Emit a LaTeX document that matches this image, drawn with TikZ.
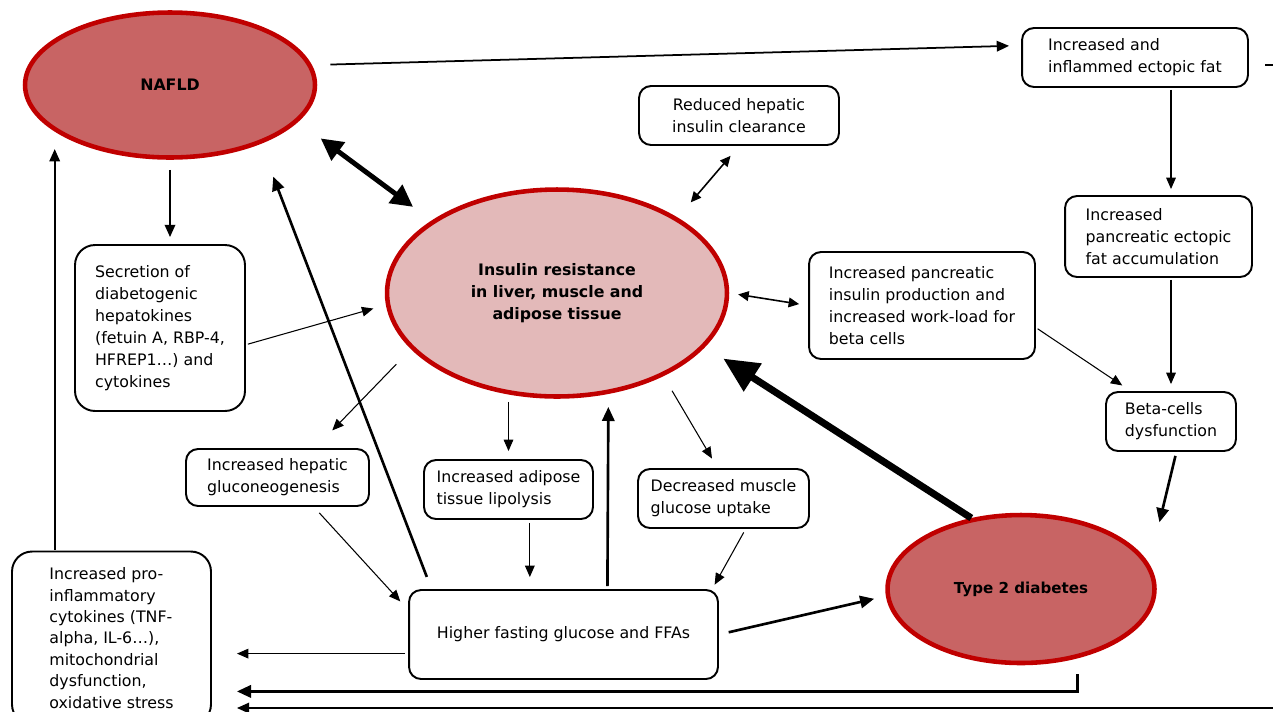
\documentclass[tikz,border=0pt]{standalone}
\usepackage{fontspec}
\setmainfont{DejaVu Sans}
\usetikzlibrary{shapes.geometric, arrows.meta}
\definecolor{naflred}{RGB}{200,100,100}
\definecolor{irpink}{RGB}{227,185,185}
\definecolor{rimred}{RGB}{192,0,0}

\begin{document}
\begin{tikzpicture}[x=0.02cm, y=-0.02cm,
        hub/.style={ellipse, draw=rimred, line width=2.6pt, align=center, font=\bfseries\fontsize{9}{12.5}\selectfont},
        box/.style={rectangle, draw, line width=1.1pt, rounded corners=0.24cm, align=left, font=\fontsize{9}{12.5}\selectfont},
        arrowthin/.style={-{Triangle[length=6.5pt,width=5.5pt]}, line width=0.6pt},
        arrowmid/.style={-{Triangle[length=7pt,width=6pt]}, line width=1pt},
        arrowthick/.style={-{Triangle[length=8pt,width=7pt]}, line width=1.5pt},
        twoway/.style={{Triangle[length=6pt,width=5.5pt]}-{Triangle[length=6pt,width=5.5pt]}, line width=0.9pt}
    ]
        \useasboundingbox (0,0) rectangle (1273,711);

        % Main conditions
        \node[hub, fill=naflred, minimum width=5.8cm, minimum height=2.9cm] (nafld) at (170,85) {NAFLD};
        \node[hub, fill=irpink, minimum width=6.8cm, minimum height=4.14cm] (ir) at (557,293) {Insulin resistance\\in liver, muscle and\\adipose tissue};
        \node[hub, fill=naflred, minimum width=5.34cm, minimum height=2.96cm, font=\bfseries\fontsize{8.6}{10}\selectfont] (t2d) at (1021,589) {Type 2 diabetes};

        % Mechanisms
        \node[box, minimum width=4.52cm, minimum height=1.18cm] (ectopic) at (1135,57.5) {Increased and\\inflammed ectopic fat};
        \node[box, align=center, minimum width=4cm, minimum height=1.18cm] (reduced) at (739,115.5) {Reduced hepatic\\insulin clearance};
        \node[box, minimum width=3.74cm, minimum height=1.62cm] (pancfat) at (1158.5,236.5) {Increased\\pancreatic ectopic\\fat accumulation};
        \node[box, rounded corners=0.4cm, minimum width=3.4cm, minimum height=3.32cm] (secretion) at (160,328) {Secretion of\\diabetogenic\\hepatokines\\(fetuin A, RBP-4,\\HFREP1…) and\\cytokines};
        \node[box, minimum width=4.52cm, minimum height=2.14cm] (pancprod) at (922,305.5) {Increased pancreatic\\insulin production and\\increased work-load for\\beta cells};
        \node[box, minimum width=2.6cm, minimum height=1.18cm] (beta) at (1171,421.5) {Beta-cells\\dysfunction};
        \node[box, minimum width=3.66cm, minimum height=1.14cm] (gluco) at (277.5,477.5) {Increased hepatic\\gluconeogenesis};
        \node[box, minimum width=3.38cm, minimum height=1.18cm] (lipo) at (508.5,489.5) {Increased adipose\\tissue lipolysis};
        \node[box, minimum width=3.42cm, minimum height=1.18cm] (muscle) at (723.5,498.5) {Decreased muscle\\glucose uptake};
        \node[box, minimum width=6.18cm, minimum height=1.78cm] (fasting) at (563.5,634.5) {Higher fasting glucose and FFAs};
        \node[box, rounded corners=0.4cm, minimum width=3.98cm, minimum height=3.46cm, font=\fontsize{9}{12.2}\selectfont] (inflam) at (111.5,638) {Increased pro-\\inflammatory\\cytokines (TNF-\\alpha, IL-6…),\\mitochondrial\\dysfunction,\\oxidative stress};

        % Loose ends at the picture border
        \coordinate (rstubA) at (1265,65);
        \coordinate (rstubB) at (1285,65);
        \coordinate (rbottom) at (1285,708);

        % Connections
        \draw[arrowmid, shorten <=0.37cm, shorten >=0.24cm] (nafld.8) -- (ectopic.174);
        \draw[line width=0.8pt] (rstubA) -- (rstubB);
        \draw[arrowthin, shorten <=0.04cm, shorten >=0.12cm] (ectopic.south -| beta) -- (pancfat.north -| beta);
        \draw[arrowthin, shorten <=0.04cm, shorten >=0.14cm] (pancfat.south -| beta) -- (beta.north);
        \draw[arrowthin, shorten <=0.04cm, shorten >=0.2cm] (pancprod.-11) -- (beta.143);
        \draw[arrowthick, shorten <=0.08cm, shorten >=0.86cm] (beta.-80) -- (t2d.11);
        \draw[-{Triangle[length=20pt,width=18pt]}, line width=4pt, shorten >=0.43cm] (t2d.125) -- (ir.-20);
        \draw[{Triangle[length=12.5pt,width=12.5pt]}-{Triangle[length=12.5pt,width=12.5pt]}, line width=2.8pt, shorten <=0.56cm, shorten >=0.46cm] (nafld.-16) -- (ir.150);
        \draw[twoway, shorten <=0.4cm, shorten >=0.26cm] (ir.32) -- (reduced.south);
        \draw[twoway, shorten <=0.18cm, shorten >=0.18cm] (ir.east) -- (pancprod.west);
        \draw[arrowmid, shorten <=0.2cm, shorten >=0.14cm] (nafld.south) -- (nafld.south |- secretion.north);
        \draw[arrowthin, shorten <=0.04cm, shorten >=0.26cm] (secretion.-11) -- (ir.184);
        \draw[arrowthin, shorten <=0.42cm, shorten >=0.49cm] (ir.201) -- (gluco.38);
        \draw[arrowthin, shorten <=0.06cm, shorten >=0.16cm] (ir.south -| lipo.north) -- (lipo.north);
        \draw[arrowthin, shorten <=0.34cm, shorten >=0.22cm] (ir.-38) -- (muscle.101);
        \draw[arrowthin, shorten <=0.16cm, shorten >=0.23cm] (gluco.-39) -- (fasting.171);
        \draw[arrowthin, shorten <=0.06cm, shorten >=0.24cm] (lipo.-55) -- (lipo.-55 |- fasting.north);
        \draw[arrowthin, shorten <=0.08cm, shorten >=0.1cm] (muscle.-54) -- (fasting.17);
        \draw[arrowthick, shorten <=0.06cm, shorten >=0.26cm] (fasting.46) -- (ir.-63);
        \draw[arrowthick, shorten <=0.26cm, shorten >=0.7cm] (fasting.161) -- (nafld.-33.5);
        \draw[arrowthick, shorten <=0.2cm, shorten >=0.24cm] (fasting.east) -- (t2d.183);
        \draw[arrowthin, shorten <=0.06cm, shorten >=0.5cm] (fasting.187) -- (fasting.187 -| inflam.east);
        \draw[arrowthick, shorten <=0.32cm, shorten >=0.5cm] (t2d.-51) |- (inflam.-28);
        \draw[arrowmid, shorten >=0.5cm] (rbottom) -- (rbottom -| inflam.east);
        \draw[arrowmid, shorten <=0.02cm, shorten >=0.38cm] (inflam.123) -- (inflam.123 |- nafld.201);
    \end{tikzpicture}
\end{document}
